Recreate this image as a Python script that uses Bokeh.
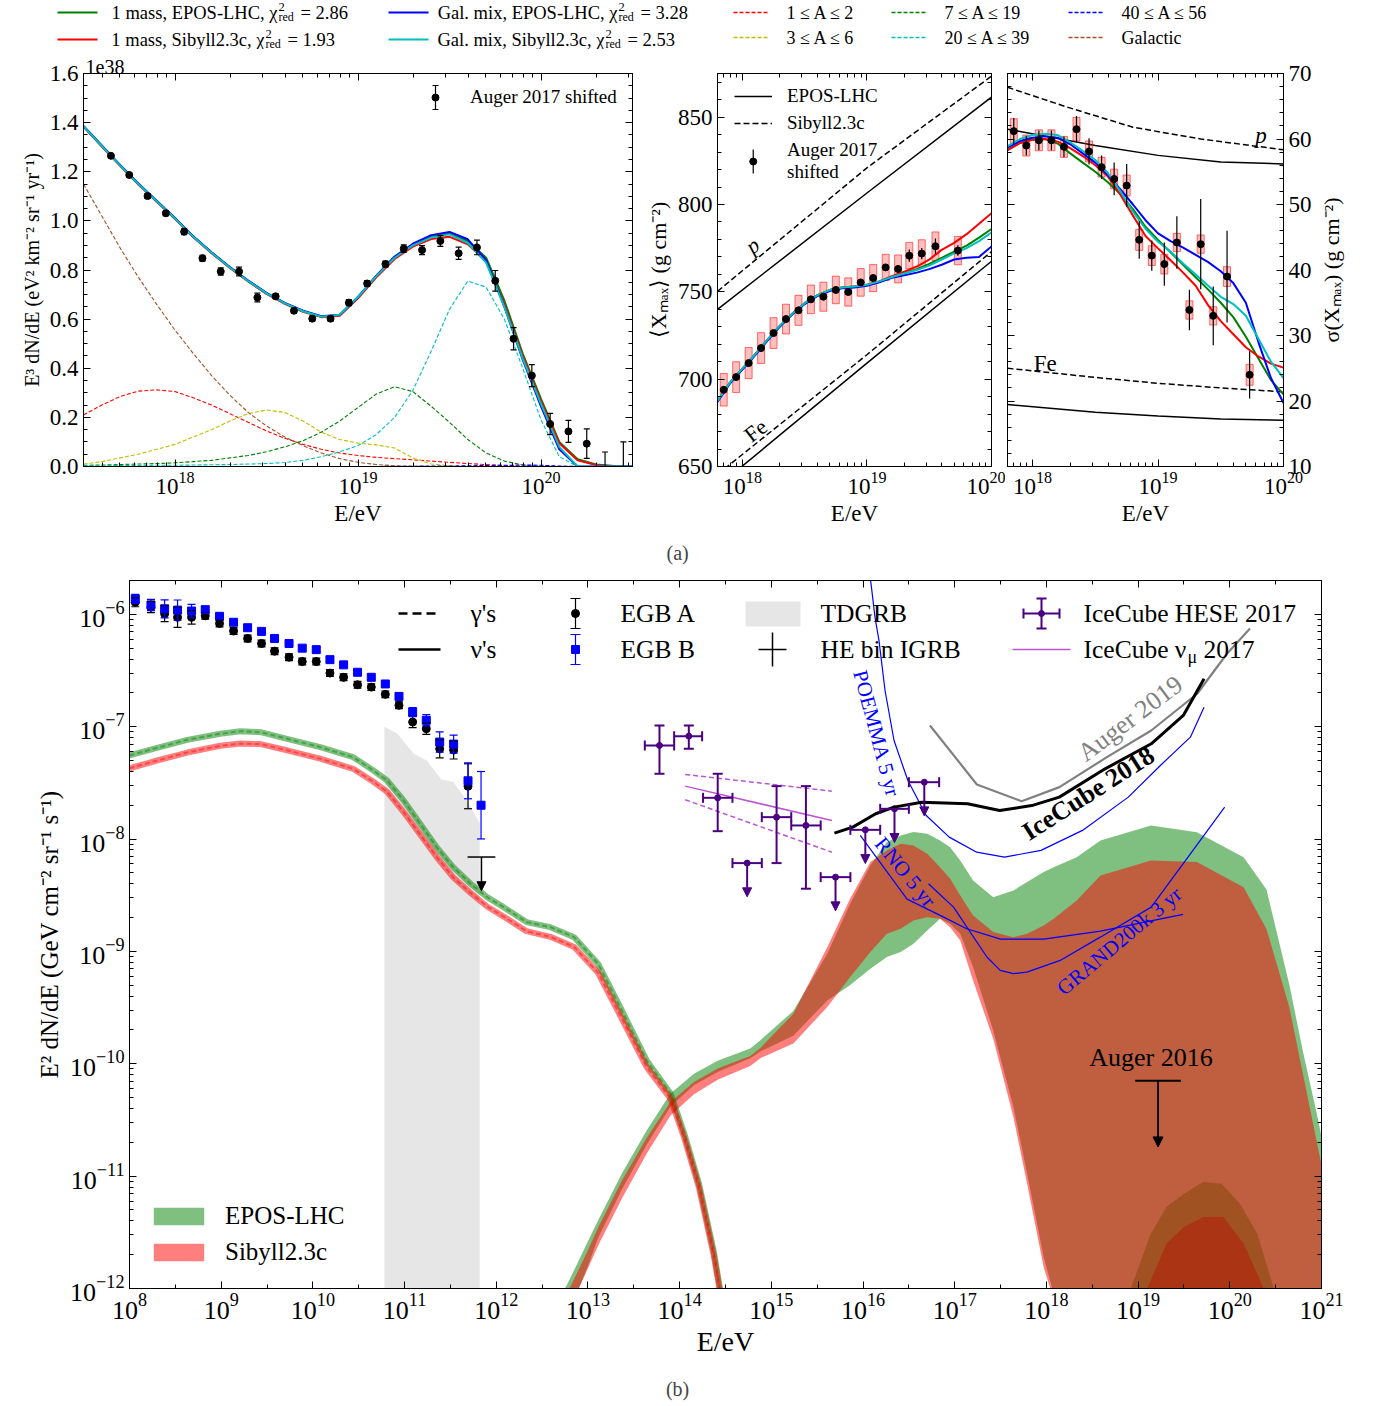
import numpy as np
from bokeh.plotting import figure
from bokeh.layouts import column, row
from bokeh.models import (Range1d, LinearAxis, LogAxis, FixedTicker, Legend, LegendItem,
                          Label, Whisker, TeeHead, Arrow, NormalHead, ColumnDataSource,
                          CustomJSTickFormatter, NumeralTickFormatter)
from bokeh.embed import file_html
from bokeh.resources import INLINE
from bokeh.core.properties import value

FONT = "Liberation Serif"
NAN = float("nan")

# ======================= DATA =======================
# ---- top legend (panel a) ----
fit_names = ["1 mass, EPOS-LHC, χ", "1 mass, Sibyll2.3c, χ", "Gal. mix, EPOS-LHC, χ", "Gal. mix, Sibyll2.3c, χ"]
fit_chi2 = ["= 2.86", "= 1.93", "= 3.28", "= 2.53"]
fit_colors = ["#008000", "#ff0000", "#0000ff", "#00bfbf"]
comp_names = ["1 ≤ A ≤ 2", "3 ≤ A ≤ 6", "7 ≤ A ≤ 19", "20 ≤ A ≤ 39", "40 ≤ A ≤ 56", "Galactic"]
comp_colors = ["#ff0000", "#bfbf00", "#008000", "#00bfbf", "#0000ff", "#a0522d"]

# ---- panel (a) left: spectrum, units of 1e38 ----
spec_logE = [17.65, 17.75, 17.85, 17.95, 18.05, 18.15, 18.25, 18.35, 18.45, 18.55, 18.65, 18.75, 18.85, 18.95,
             19.05, 19.15, 19.25, 19.35, 19.45, 19.55, 19.65, 19.75, 19.85, 19.95, 20.05, 20.15, 20.25]
spec_flux = [1.265, 1.187, 1.101, 1.031, 0.956, 0.848, 0.794, 0.794, 0.688, 0.693, 0.634, 0.602, 0.602, 0.667,
             0.745, 0.824, 0.887, 0.881, 0.918, 0.868, 0.892, 0.756, 0.520, 0.370, 0.173, 0.143, 0.093]
spec_err = [0.008, 0.008, 0.010, 0.010, 0.012, 0.012, 0.015, 0.018, 0.018, 0.010, 0.010, 0.010, 0.010, 0.012,
            0.012, 0.012, 0.015, 0.018, 0.022, 0.025, 0.030, 0.042, 0.045, 0.045, 0.043, 0.045, 0.060]
spec_ul_logE = [20.35, 20.45]
spec_ul_top = [0.059, 0.100]

fit_logE = [17.5, 17.6, 17.7, 17.8, 17.9, 18.0, 18.1, 18.2, 18.3, 18.4, 18.5, 18.6, 18.7, 18.8, 18.9, 19.0,
            19.1, 19.2, 19.3, 19.4, 19.5, 19.6, 19.7, 19.8, 19.9, 20.0, 20.1, 20.2, 20.3, 20.4, 20.5]
fit_1m_epos = [1.385, 1.305, 1.226, 1.15, 1.08, 1.01, 0.935, 0.87, 0.81, 0.755, 0.705, 0.664, 0.632, 0.61, 0.616,
               0.688, 0.775, 0.852, 0.902, 0.936, 0.948, 0.918, 0.85, 0.675, 0.46, 0.275, 0.1, 0.03, 0.008, 0.002, 0.0]
fit_1m_sib = [1.383, 1.303, 1.224, 1.148, 1.078, 1.008, 0.933, 0.868, 0.808, 0.753, 0.703, 0.662, 0.63, 0.608, 0.614,
              0.685, 0.77, 0.845, 0.895, 0.926, 0.935, 0.905, 0.835, 0.66, 0.45, 0.265, 0.095, 0.025, 0.006, 0.001, 0.0]
fit_gm_epos = [1.387, 1.307, 1.228, 1.152, 1.082, 1.012, 0.937, 0.872, 0.812, 0.757, 0.707, 0.666, 0.634, 0.612, 0.618,
               0.69, 0.777, 0.855, 0.907, 0.942, 0.955, 0.925, 0.84, 0.65, 0.435, 0.245, 0.07, 0.0, 0.0, 0.0, 0.0]
fit_gm_sib = [1.385, 1.305, 1.226, 1.15, 1.08, 1.01, 0.935, 0.87, 0.81, 0.755, 0.705, 0.664, 0.632, 0.61, 0.618,
              0.69, 0.775, 0.85, 0.9, 0.932, 0.945, 0.91, 0.83, 0.65, 0.44, 0.255, 0.08, 0.0, 0.0, 0.0, 0.0]
comp_a1_2 = [0.21, 0.25, 0.285, 0.307, 0.312, 0.305, 0.28, 0.25, 0.215, 0.18, 0.145, 0.115, 0.09, 0.07, 0.055, 0.045,
             0.037, 0.032, 0.027, 0.022, 0.017, 0.012, 0.008, 0.004, 0.002, 0, 0, 0, 0, 0, 0]
comp_a3_6 = [0.01, 0.02, 0.035, 0.05, 0.07, 0.09, 0.12, 0.15, 0.185, 0.215, 0.23, 0.22, 0.185, 0.14, 0.11, 0.095,
             0.088, 0.075, 0.035, 0.01, 0.003, 0, 0, 0, 0, 0, 0, 0, 0, 0, 0]
comp_a7_19 = [0.005, 0.006, 0.008, 0.01, 0.012, 0.015, 0.02, 0.025, 0.035, 0.045, 0.06, 0.08, 0.105, 0.14, 0.185, 0.24,
              0.295, 0.325, 0.305, 0.245, 0.18, 0.11, 0.055, 0.022, 0.006, 0.001, 0, 0, 0, 0, 0]
comp_a20_39 = [0.003, 0.003, 0.004, 0.004, 0.005, 0.005, 0.006, 0.007, 0.008, 0.01, 0.012, 0.016, 0.025, 0.04, 0.06,
               0.085, 0.13, 0.2, 0.31, 0.47, 0.64, 0.755, 0.73, 0.6, 0.4, 0.19, 0.04, 0.0, 0, 0, 0]
comp_a40_56 = [0, 0, 0, 0, 0, 0, 0, 0, 0, 0, 0, 0, 0, 0, 0, 0, 0, 0.001, 0.001, 0.002, 0.002, 0.003, 0.004, 0.005,
               0.006, 0.005, 0.002, 0, 0, 0, 0]
comp_gal = [1.15, 1.02, 0.89, 0.77, 0.66, 0.555, 0.46, 0.37, 0.29, 0.22, 0.165, 0.12, 0.085, 0.055, 0.032, 0.017,
            0.008, 0.003, 0.001, 0, 0, 0, 0, 0, 0, 0, 0, 0, 0, 0, 0]

# ---- panel (a) middle / right: Xmax moments ----
xm_logE = [17.85, 17.95, 18.05, 18.15, 18.25, 18.35, 18.45, 18.55, 18.65, 18.75, 18.85, 18.95, 19.05, 19.15,
           19.25, 19.34, 19.44, 19.55, 19.73]
xmax_val = [693.9, 701.2, 709.2, 717.8, 726.4, 734.4, 739.4, 745.7, 747.2, 751.1, 749.9, 755.4, 757.9, 764.0,
            763.1, 770.7, 771.9, 776.1, 773.6]
xmax_stat = [1.5, 1.5, 1.5, 1.5, 1.5, 1.5, 1.5, 1.5, 1.5, 1.5, 1.5, 1.6, 1.8, 2.0, 2.2, 3.5, 3.2, 4.5, 3.0]
xmax_sys = [9.3, 8.8, 8.9, 8.8, 8.8, 8.5, 8.6, 8.2, 8.3, 7.9, 8.1, 7.9, 7.8, 7.5, 8.0, 7.6, 7.9, 8.2, 8.1]
sig_val = [61.2, 59.0, 59.8, 59.8, 58.8, 61.5, 58.1, 55.7, 53.9, 52.9, 44.6, 42.2, 40.9, 44.2, 33.9, 43.95,
           33.0, 39.0, 24.0]
sig_stat = [2.0, 1.5, 1.5, 1.5, 1.6, 2.0, 2.0, 1.8, 2.5, 3.3, 2.9, 2.3, 3.3, 4.0, 3.1, 6.9, 4.5, 7.0, 3.6]
sig_sys = [1.9, 1.6, 1.6, 1.6, 1.6, 1.8, 1.6, 1.5, 1.5, 1.6, 1.6, 1.5, 1.5, 1.4, 1.4, 1.4, 1.4, 1.5, 1.6]

mod_logE = [17.8, 17.9, 18.0, 18.1, 18.2, 18.3, 18.4, 18.5, 18.6, 18.7, 18.8, 18.9, 19.0, 19.1, 19.2, 19.3,
            19.4, 19.5, 19.6, 19.7, 19.8, 19.9, 20.0]
xmax_1m_epos = [687.5, 698, 706, 714, 722.5, 730.5, 737.5, 743.5, 748, 751, 752.5, 753, 754, 756, 758.5, 760.5,
                763, 766, 769.5, 773, 776.5, 781, 786]
xmax_1m_sib = [687.5, 698, 706, 714, 722.5, 730.5, 737.5, 743.5, 748, 751, 752.5, 753, 754, 756, 759, 761.5,
               764.5, 768.5, 774, 778, 783, 789, 795]
xmax_gm_epos = [687.0, 697.5, 705.5, 713.5, 722, 730, 737, 743, 747.5, 750.5, 752, 752.5, 753.5, 755.5, 758, 759.5,
                761, 763, 765.5, 768.5, 769.5, 770, 776]
xmax_gm_sib = [687.5, 698, 706, 714, 722.5, 730.5, 737.5, 743.5, 748, 751, 752.5, 753, 754, 756, 758.5, 760.5,
               762.5, 765, 768.5, 772, 775, 779, 784]
sig_1m_epos = [58.3, 59.4, 59.9, 60.0, 59.3, 57.8, 56.4, 55.0, 53.4, 51.6, 49.3, 46.6, 44.6, 42.7, 40.8, 38.9,
               37.0, 35.0, 32.8, 29.8, 26.5, 23.2, 21.0]
sig_1m_sib = [58.3, 59.4, 59.9, 60.0, 59.6, 58.6, 57.4, 56.0, 54.3, 51.5, 48.3, 45.2, 43.3, 41.5, 39.6, 37.6,
              34.6, 32.2, 30.2, 28.2, 26.8, 25.7, 25.1]
sig_gm_epos = [58.7, 59.7, 60.2, 60.4, 60.2, 59.2, 57.8, 56.4, 54.5, 52.3, 50.0, 47.6, 45.6, 44.4, 43.4, 42.3,
               41.2, 39.8, 38.0, 35.0, 29.0, 23.5, 19.7]
sig_gm_sib = [58.9, 60.0, 60.6, 60.8, 60.6, 59.5, 58.2, 56.8, 54.8, 52.0, 48.9, 46.3, 44.3, 42.8, 41.0, 39.3,
              37.6, 35.9, 34.8, 33.0, 29.5, 26.0, 23.5]

ref_logE = [17.8, 19.0, 20.0]
xmax_p_epos = [740.0, 806.6, 861.5]
xmax_p_sib = [750.3, 821.0, 873.5]
xmax_fe_epos = [638.5, 709.2, 767.5]
xmax_fe_sib = [645.5, 714.0, 773.0]
sref_logE = [17.8, 18.27, 18.8, 19.34, 20.0]
sig_p_sib = [67.9, 64.9, 61.8, 60.0, 58.35]
sref2_logE = [17.8, 18.5, 19.0, 19.5, 20.0]
sig_p_epos = [61.5, 59.0, 57.5, 56.5, 56.2]
sig_fe_sib = [25.0, 23.6, 22.7, 22.0, 21.4]
sig_fe_epos = [19.45, 18.3, 17.7, 17.25, 17.05]

# ---- panel (b): multimessenger (log10 values unless noted) ----
egb_logE = [8.063, 8.234, 8.383, 8.524, 8.677, 8.826, 8.982, 9.135, 9.288, 9.44, 9.582, 9.74, 9.884, 10.037,
            10.186, 10.335, 10.487, 10.637, 10.79, 10.939, 11.088, 11.237, 11.383, 11.535, 11.692, 11.834]
egb_a = [1.28e-6, 1.16e-6, 1.01e-6, 9.4e-7, 9.4e-7, 9.7e-7, 8.3e-7, 7.1e-7, 6.1e-7, 5.5e-7, 4.7e-7, 4.15e-7,
         3.8e-7, 3.8e-7, 3.0e-7, 2.75e-7, 2.36e-7, 2.25e-7, 1.94e-7, 1.55e-7, 1.10e-7, 9.6e-8, 6.35e-8, 6.2e-8, 2.95e-8]
egb_a_dex = [0.04, 0.05, 0.07, 0.09, 0.06, 0.03, 0.03, 0.03, 0.03, 0.03, 0.03, 0.03, 0.03, 0.03, 0.03, 0.03, 0.03,
             0.03, 0.03, 0.03, 0.05, 0.05, 0.08, 0.08, 0.2]
egb_b = [1.37e-6, 1.21e-6, 1.12e-6, 1.09e-6, 1.07e-6, 1.10e-6, 9.6e-7, 8.5e-7, 7.6e-7, 7.05e-7, 6.1e-7, 5.5e-7,
         5.0e-7, 4.85e-7, 3.95e-7, 3.55e-7, 3.05e-7, 2.75e-7, 2.4e-7, 1.86e-7, 1.35e-7, 1.14e-7, 7.3e-8, 7.0e-8,
         3.3e-8, 2.0e-8]
egb_b_dex = [0.04, 0.05, 0.08, 0.09, 0.06, 0.03, 0.02, 0.02, 0.02, 0.02, 0.02, 0.02, 0.02, 0.02, 0.02, 0.02, 0.02,
             0.02, 0.02, 0.03, 0.04, 0.05, 0.09, 0.08, 0.16, 0.3]
igrb_logE_lo, igrb_logE_hi, igrb_log = 11.687, 11.99, -8.16

tdgrb_logE = [10.78, 10.92, 11.10, 11.24, 11.40, 11.53, 11.68, 11.82]
tdgrb_top = [-7.0, -7.06, -7.24, -7.30, -7.47, -7.49, -7.66, -7.86]

gam_logE = [8.0, 8.26, 8.63, 8.99, 9.21, 9.43, 9.72, 10.08, 10.44, 10.66, 10.81, 10.99, 11.17, 11.35, 11.53, 11.72,
            11.9, 12.08, 12.33, 12.59, 12.85, 13.11, 13.37, 13.64, 13.9, 14.05, 14.21, 14.37, 14.44]
gam_epos = [-7.256, -7.197, -7.117, -7.063, -7.040, -7.049, -7.108, -7.182, -7.271, -7.390, -7.479, -7.657, -7.864,
            -8.072, -8.250, -8.398, -8.517, -8.606, -8.739, -8.784, -8.873, -9.109, -9.525, -9.97, -10.263, -10.62,
            -11.064, -11.66, -12.0]
gam_sib = [-7.37, -7.31, -7.23, -7.17, -7.15, -7.155, -7.21, -7.285, -7.375, -7.49, -7.58, -7.76, -7.96, -8.16,
           -8.34, -8.48, -8.6, -8.69, -8.82, -8.87, -8.96, -9.19, -9.6, -10.03, -10.31, -10.66, -11.1, -11.7, -12.03]

nu_logE = [12.70, 12.75, 12.80, 12.90, 13.00, 13.11, 13.37, 13.64, 13.90, 14.16, 14.42, 14.77, 14.88, 15.24, 15.61,
           15.86, 16.08, 16.26, 16.41, 16.55, 16.70, 16.84, 16.95, 17.06, 17.20, 17.42, 17.64, 17.79, 17.97, 18.08,
           18.33, 18.59, 19.14, 19.64, 20.15, 20.40, 20.65, 20.80, 20.95, 21.00]
nu_epos_hi = [-13.0, -12.0, -11.92, -11.75, -11.58, -11.395, -10.977, -10.594, -10.265, -10.087, -9.97, -9.863, -9.79,
              -9.53, -9.02, -8.575, -8.235, -8.027, -7.968, -7.938, -7.953, -8.012, -8.072, -8.19, -8.368, -8.517,
              -8.457, -8.383, -8.294, -8.25, -8.161, -8.012, -7.879, -7.939, -8.161, -8.45, -9.3, -9.9, -10.45, -10.65]
nu_epos_lo = [-13.0, -13.0, -13.0, -12.0, -11.8, -11.55, -11.12, -10.72, -10.38, -10.19, -10.07, -9.95, -9.89,
              -9.75, -9.436, -9.30, -9.155, -9.05, -9.006, -8.932, -8.813, -8.71, -8.754, -8.843, -9.139, -9.703,
              -10.385, -10.978, -11.72, -12.05, -13.0, -13.0, -13.0, -13.0, -13.0, -13.0, -13.0, -13.0, -13.0, -13.0]
nu_sib_hi = [-13.0, -13.0, -12.0, -11.83, -11.66, -11.46, -11.04, -10.66, -10.34, -10.16, -10.04, -9.93, -9.86,
             -9.555, -8.962, -8.53, -8.205, -8.101, -8.042, -8.057, -8.131, -8.25, -8.353, -8.502, -8.68, -8.828,
             -8.873, -8.843, -8.769, -8.709, -8.546, -8.324, -8.19, -8.205, -8.43, -8.8, -9.5, -10.1, -10.7, -10.9]
nu_sib_lo = [-13.0, -13.0, -13.0, -12.0, -11.82, -11.62, -11.2, -10.8, -10.46, -10.27, -10.14, -10.02, -9.95,
             -9.82, -9.495, -9.228, -9.006, -8.843, -8.798, -8.724, -8.695, -8.71, -8.784, -8.902, -9.258, -9.777,
             -10.474, -11.07, -11.81, -12.1, -13.0, -13.0, -13.0, -13.0, -13.0, -13.0, -13.0, -13.0, -13.0, -13.0]
bump_outer_logE = [18.85, 18.92, 19.14, 19.31, 19.50, 19.71, 19.91, 20.11, 20.30, 20.48, 20.55]
bump_outer = [-13.0, -12.0, -11.51, -11.275, -11.156, -11.053, -11.067, -11.245, -11.512, -12.0, -13.0]
bump_inner_logE = [19.03, 19.10, 19.31, 19.50, 19.71, 19.93, 20.15, 20.37, 20.44]
bump_inner = [-13.0, -12.0, -11.6, -11.453, -11.364, -11.364, -11.6, -12.0, -13.0]

hese_logE = [13.78, 14.10, 14.415, 14.736, 15.057, 15.377, 15.70, 16.025, 16.343, 16.668]
hese_edge_lo = [13.62, 13.94, 14.255, 14.576, 14.896, 15.217, 15.538, 15.862, 16.187, 16.5]
hese_edge_hi = [13.94, 14.245, 14.576, 14.896, 15.217, 15.538, 15.862, 16.187, 16.5, 16.83]
hese_log = [-7.167, -7.084, -7.633, -8.214, -7.805, -7.879, -8.339, -7.918, -7.731, -7.494]
hese_dlo = [0.252, 0.113, 0.297, 0, 0.409, 0.563, 0, 0, 0, 0]
hese_dhi = [0.177, 0.094, 0.214, 0, 0.276, 0.35, 0, 0, 0, 0]
hese_ul = [False, False, False, True, False, False, True, True, True, True]

numu_logE = [14.06, 15.66]
numu_mid = [-7.529, -7.835]
numu_hi = [-7.425, -7.574]
numu_lo = [-7.65, -8.117]

icecube18_logE = [15.688, 15.888, 16.138, 16.338, 16.639, 17.14, 17.49, 17.84, 18.141, 18.64, 19.143, 19.493, 19.719]
icecube18 = [-7.947, -7.894, -7.775, -7.716, -7.672, -7.686, -7.746, -7.702, -7.627, -7.375, -7.152, -6.9, -6.574]
auger19_logE = [16.73, 17.241, 17.73, 18.142, 18.642, 19.143, 19.644, 19.969, 20.22]
auger19 = [-6.989, -7.514, -7.663, -7.538, -7.28, -7.034, -6.707, -6.351, -6.126]
poemma_logE = [16.06, 16.096, 16.13, 16.174, 16.24, 16.338, 16.489, 16.689, 16.94, 17.24, 17.542, 17.941, 18.393,
               18.893, 19.243, 19.57, 19.719]
poemma = [-5.55, -5.788, -6.025, -6.234, -6.678, -7.123, -7.479, -7.79, -7.983, -8.117, -8.161, -8.101, -7.923,
          -7.627, -7.345, -7.093, -6.826]
rno_logE = [15.97, 16.48, 16.88, 17.13, 17.5, 17.97, 18.59, 19.49]
rno = [-7.967, -8.535, -8.695, -8.798, -8.89, -8.89, -8.82, -8.67]
grand_logE = [16.714, 16.987, 17.351, 17.496, 17.641, 17.787, 18.15, 18.587, 19.143, 19.544, 19.944]
grand = [-8.398, -8.606, -9.05, -9.169, -9.198, -9.184, -9.08, -8.873, -8.606, -8.161, -7.716]
auger16_logE_lo, auger16_logE_hi, auger16_log = 18.968, 19.467, -10.15


# ======================= HELPERS =======================
def p10(a):
    return [10.0 ** v for v in a]


BLANK = CustomJSTickFormatter(code="return ''")


def decade_minor(lo, hi):
    return [k * 10.0 ** e for e in range(lo, hi) for k in range(2, 10)]


def style_axis(ax, size, blank=False, label_size=None):
    ax.major_tick_in = 7
    ax.major_tick_out = 0
    ax.minor_tick_in = 4
    ax.minor_tick_out = 0
    ax.major_tick_line_color = "black"
    ax.minor_tick_line_color = "black"
    ax.axis_line_color = "black"
    ax.major_label_text_font = FONT
    ax.major_label_text_font_size = size
    ax.major_label_text_color = "black"
    ax.axis_label_text_font = FONT
    ax.axis_label_text_font_style = "normal"
    ax.axis_label_text_font_size = label_size or size
    ax.axis_label_text_color = "black"
    ax.major_label_standoff = 0 if blank else 5
    ax.axis_label_standoff = 4


def base_fig(**kw):
    p = figure(output_backend="svg", toolbar_location=None, **kw)
    p.grid.visible = False
    p.outline_line_color = "black"
    p.outline_line_width = 1
    return p


def style_title(p, size):
    p.title.text_font = FONT
    p.title.text_font_size = size
    p.title.text_font_style = "normal"
    p.title.text_color = "black"
    p.title.align = "left"
    p.title.standoff = 0
    p.title.offset = 2


def add_frame_axes(p, xt, yt, xlog, ylog, size, right_main=False):
    xmain = p.below[0]
    ymain = p.right[0] if right_main else p.left[0]
    xmain.ticker = xt
    ymain.ticker = yt
    style_axis(xmain, size)
    style_axis(ymain, size)
    Xa = LogAxis if xlog else LinearAxis
    Ya = LogAxis if ylog else LinearAxis
    top = Xa(ticker=xt, formatter=BLANK)
    style_axis(top, size, blank=True)
    p.add_layout(top, "above")
    other = Ya(ticker=yt, formatter=BLANK)
    style_axis(other, size, blank=True)
    p.add_layout(other, "left" if right_main else "right")
    return xmain, ymain


def errbar(p, x, lo, hi, color, width=1.2, cap=6, dim="height"):
    src = ColumnDataSource(dict(b=x, lo=lo, hi=hi))
    p.add_layout(Whisker(source=src, base="b", lower="lo", upper="hi", dimension=dim, level="annotation",
                         line_color=color, line_width=width,
                         upper_head=TeeHead(size=cap, line_color=color, line_width=width),
                         lower_head=TeeHead(size=cap, line_color=color, line_width=width)))


def arrows(p, x, y0, y1, color, width=1.5, size=9):
    src = ColumnDataSource(dict(x=x, y0=y0, y1=y1))
    p.add_layout(Arrow(source=src, x_start="x", y_start="y0", x_end="x", y_end="y1", line_color=color,
                       line_width=width, level="annotation",
                       end=NormalHead(size=size, fill_color=color, line_color=color)))


def txt(p, x, y, s, size, color="black", angle=0, style="normal", align="center", baseline="middle"):
    p.add_layout(Label(x=x, y=y, text=s, angle=angle, angle_units="deg", text_font=FONT,
                       text_font_size=size, text_color=color, text_font_style=style,
                       text_align=align, text_baseline=baseline))


def make_legend(items, loc, gw, gh, st, size, spacing):
    return Legend(items=[LegendItem(label=l, renderers=r) for l, r in items], location=loc, margin=0,
                  padding=0, spacing=spacing, glyph_width=gw, glyph_height=gh, label_standoff=st,
                  label_text_font=FONT, label_text_font_size=size, label_text_color="black",
                  border_line_color=None, background_fill_alpha=0)


# ======================= TOP LEGEND STRIP =======================
TOP_H = 49
pl = figure(width=1377, height=TOP_H, x_range=Range1d(0, 1377), y_range=Range1d(TOP_H, 0),
            x_axis_location=None, y_axis_location=None, output_backend="svg",
            toolbar_location=None, min_border=0)
pl.grid.visible = False
pl.outline_line_color = None
chi_end = [277, 264, 617, 604]
fit_row = [12, 39, 12, 39]
fit_x0 = [57, 57, 388, 388]
for x0, y, col in zip(fit_x0, fit_row, fit_colors):
    pl.line([x0, x0 + 40], [y, y], line_color=col, line_width=2)
pl.text(x=chi_end, y=fit_row, text=fit_names, text_align="right", text_baseline="middle",
        text_font=value(FONT), text_font_size="18.5px", text_color="black")
pl.text(x=[c + 1 for c in chi_end], y=[r - 6 for r in fit_row], text=["2"] * 4, text_align="left",
        text_baseline="middle", text_font=value(FONT), text_font_size="12.5px", text_color="black")
pl.text(x=[c + 1 for c in chi_end], y=[r + 4 for r in fit_row], text=["red"] * 4, text_align="left",
        text_baseline="middle", text_font=value(FONT), text_font_size="12px", text_color="black")
pl.text(x=[c + 23 for c in chi_end], y=fit_row, text=fit_chi2, text_align="left", text_baseline="middle",
        text_font=value(FONT), text_font_size="18.5px", text_color="black")
comp_x0 = [733, 733, 891, 891, 1068, 1068]
comp_row = [12, 37, 12, 37, 12, 37]
for x0, y, col in zip(comp_x0, comp_row, comp_colors):
    pl.line([x0, x0 + 36], [y, y], line_color=col, line_width=1.3, line_dash="4 2")
pl.text(x=[x + 53 for x in comp_x0], y=comp_row, text=comp_names, text_align="left", text_baseline="middle",
        text_font=value(FONT), text_font_size="18px", text_color="black")

# ======================= PANEL a1: spectrum =======================
A_TOP, A_BOT = 24, 68
A_H = A_TOP + 393 + A_BOT
TITLE_SIZE = "20px"
xt_a1 = FixedTicker(ticks=[1e18, 1e19, 1e20], minor_ticks=decade_minor(17, 21))
yt_a1 = FixedTicker(ticks=[0.0, 0.2, 0.4, 0.6, 0.8, 1.0, 1.2, 1.4, 1.6], minor_ticks=[0.05 * i for i in range(33)])
pa1 = base_fig(width=642, height=A_H, x_axis_type="log", x_range=Range1d(10 ** 17.5, 10 ** 20.5),
               y_range=Range1d(0, 1.6), min_border_left=83, min_border_right=10, min_border_top=A_TOP,
               min_border_bottom=A_BOT, title="1e38")
style_title(pa1, TITLE_SIZE)
xa1, ya1 = add_frame_axes(pa1, xt_a1, yt_a1, True, False, "23px")
ya1.formatter = NumeralTickFormatter(format="0.0")
xa1.axis_label = "E/eV"
ya1.axis_label = "E³ dN/dE (eV² km⁻² sr⁻¹ yr⁻¹)"
ya1.axis_label_text_font_size = "20px"
E1 = p10(fit_logE)
for comp, col in zip([comp_a1_2, comp_a3_6, comp_a7_19, comp_a20_39, comp_a40_56, comp_gal], comp_colors):
    pa1.line(E1, comp, line_color=col, line_width=1.1, line_dash="4 2")
for fit, col in zip([fit_1m_epos, fit_1m_sib, fit_gm_epos, fit_gm_sib], fit_colors):
    pa1.line(E1, fit, line_color=col, line_width=2)
Es = p10(spec_logE)
errbar(pa1, Es, [f - e for f, e in zip(spec_flux, spec_err)], [f + e for f, e in zip(spec_flux, spec_err)], "black")
ul_src = ColumnDataSource(dict(b=p10(spec_ul_logE), lo=[0.0, 0.0], hi=spec_ul_top))
pa1.add_layout(Whisker(source=ul_src, base="b", lower="lo", upper="hi", level="annotation", line_color="black",
                       line_width=1.2, upper_head=TeeHead(size=6, line_color="black", line_width=1.2),
                       lower_head=None))
pa1.scatter(Es, spec_flux, marker="circle", size=7, color="black")
# legend: label via Legend, key (marker + error bar) drawn at the legend key slot
inv1 = pa1.line([NAN], [NAN], line_alpha=0)
pa1.add_layout(make_legend([("Auger 2017 shifted", [inv1])], (342, 358), 20, 20, 25, "19px", 6))
key1x, key1y = 10 ** (17.5 + (435 - 83) * 3 / 549), (466 - 97) * 1.6 / 393
key1d = 12 * 1.6 / 393
errbar(pa1, [key1x], [key1y - key1d], [key1y + key1d], "black")
pa1.scatter([key1x], [key1y], marker="circle", size=7, color="black")

# ======================= PANEL a2: <Xmax> =======================
xt_a2 = FixedTicker(ticks=[1e18, 1e19, 1e20], minor_ticks=decade_minor(17, 20))
yt_a2 = FixedTicker(ticks=[650, 700, 750, 800, 850], minor_ticks=list(range(650, 880, 10)))
pa2 = base_fig(width=363, height=A_H, x_axis_type="log", x_range=Range1d(10 ** 17.8, 1e20),
               y_range=Range1d(650, 875), min_border_left=73, min_border_right=14, min_border_top=A_TOP,
               min_border_bottom=A_BOT, title=" ")
style_title(pa2, TITLE_SIZE)
xa2, ya2 = add_frame_axes(pa2, xt_a2, yt_a2, True, False, "23px")
xa2.axis_label = "E/eV"
ya2.axis_label = "⟨Xₘₐₓ⟩ (g cm⁻²)"
ya2.axis_label_text_font_size = "22px"
Er = p10(ref_logE)
r_epos = pa2.line(Er, xmax_p_epos, line_color="black", line_width=1.5)
r_sib = pa2.line(Er, xmax_p_sib, line_color="black", line_width=1.5, line_dash="6 3")
pa2.line(Er, xmax_fe_epos, line_color="black", line_width=1.5)
pa2.line(Er, xmax_fe_sib, line_color="black", line_width=1.5, line_dash="6 3")
Ex = p10(xm_logE)
pa2.quad(left=[e * 10 ** -0.028 for e in Ex], right=[e * 10 ** 0.028 for e in Ex],
         bottom=[v - s for v, s in zip(xmax_val, xmax_sys)], top=[v + s for v, s in zip(xmax_val, xmax_sys)],
         fill_color="red", fill_alpha=0.25, line_color="red", line_alpha=0.55, line_width=1)
Em = p10(mod_logE)
for m, col in zip([xmax_1m_epos, xmax_1m_sib, xmax_gm_epos, xmax_gm_sib], fit_colors):
    pa2.line(Em, m, line_color=col, line_width=2)
errbar(pa2, Ex, [v - s for v, s in zip(xmax_val, xmax_stat)], [v + s for v, s in zip(xmax_val, xmax_stat)],
       "black", cap=0)
pa2.scatter(Ex, xmax_val, marker="circle", size=7, color="black")
txt(pa2, 10 ** 18.08, 776.5, "p", "22px", angle=38, style="italic")
txt(pa2, 10 ** 18.106, 670.6, "Fe", "22px", angle=38)
inv2 = pa2.line([NAN], [NAN], line_alpha=0)
pa2.add_layout(make_legend([("EPOS-LHC", [r_epos]), ("Sibyll2.3c", [r_sib]),
                            ("Auger 2017\nshifted", [inv2])], (17, 283), 38, 20, 15, "19px", 5))
key2x, key2y = 10 ** (17.8 + (751 - 715) * 2.2 / 276), 650 + (466 - 161) * 225 / 393
key2d = 12 * 225 / 393
errbar(pa2, [key2x], [key2y - key2d], [key2y + key2d], "black", cap=0)
pa2.scatter([key2x], [key2y], marker="circle", size=7, color="black")

# ======================= PANEL a3: sigma(Xmax) =======================
yt_a3 = FixedTicker(ticks=[10, 20, 30, 40, 50, 60, 70], minor_ticks=list(range(10, 72, 2)))
pa3 = base_fig(width=311, height=A_H, x_axis_type="log", x_range=Range1d(10 ** 17.8, 1e20),
               y_range=Range1d(10, 70), y_axis_location="right", min_border_left=2, min_border_right=33,
               min_border_top=A_TOP, min_border_bottom=A_BOT, title=" ")
style_title(pa3, TITLE_SIZE)
xa3, ya3 = add_frame_axes(pa3, xt_a2, yt_a3, True, False, "23px", right_main=True)
xa3.axis_label = "E/eV"
pa3.line(p10(sref_logE), sig_p_sib, line_color="black", line_width=1.5, line_dash="6 3")
pa3.line(p10(sref2_logE), sig_p_epos, line_color="black", line_width=1.5)
pa3.line(p10(sref2_logE), sig_fe_sib, line_color="black", line_width=1.5, line_dash="6 3")
pa3.line(p10(sref2_logE), sig_fe_epos, line_color="black", line_width=1.5)
pa3.quad(left=[e * 10 ** -0.028 for e in Ex], right=[e * 10 ** 0.028 for e in Ex],
         bottom=[v - s for v, s in zip(sig_val, sig_sys)], top=[v + s for v, s in zip(sig_val, sig_sys)],
         fill_color="red", fill_alpha=0.25, line_color="red", line_alpha=0.55, line_width=1)
for m, col in zip([sig_1m_epos, sig_1m_sib, sig_gm_epos, sig_gm_sib], fit_colors):
    pa3.line(Em, m, line_color=col, line_width=2)
errbar(pa3, Ex, [v - s for v, s in zip(sig_val, sig_stat)], [v + s for v, s in zip(sig_val, sig_stat)],
       "black", cap=0)
pa3.scatter(Ex, sig_val, marker="circle", size=7, color="black")
txt(pa3, 10 ** 19.82, 60.5, "p", "23px", style="italic")
txt(pa3, 10 ** 18.1, 25.8, "Fe", "23px")

# right-hand axis title of the sigma panel (reads bottom to top), in its own strip
plab = figure(width=61, height=A_H, x_range=Range1d(0, 61), y_range=Range1d(10, 70), x_axis_location=None,
              y_axis_location=None, output_backend="svg", toolbar_location=None, min_border_left=0,
              min_border_right=0, min_border_top=A_TOP, min_border_bottom=A_BOT, title=" ")
style_title(plab, TITLE_SIZE)
plab.grid.visible = False
plab.outline_line_color = None
plab.text(x=[15], y=[40], text=["σ(Xₘₐₓ) (g cm⁻²)"], angle=np.pi / 2, text_align="center",
          text_baseline="middle", text_font=value(FONT), text_font_size="22px", text_color="black")

# ======================= PANEL b =======================
B_L, B_R, B_T, B_B = 129, 1321, 580, 1288
B_YTOP = 2e-6
xt_b = FixedTicker(ticks=[10.0 ** k for k in range(8, 22)], minor_ticks=[10.0 ** (k + 0.5) for k in range(8, 21)])
yt_b = FixedTicker(ticks=[10.0 ** k for k in range(-12, -5)], minor_ticks=decade_minor(-12, -5))
pb = base_fig(width=1377, height=800, x_axis_type="log", y_axis_type="log", x_range=Range1d(1e8, 1e21),
              y_range=Range1d(1e-12, B_YTOP), min_border_left=B_L, min_border_right=1377 - B_R,
              min_border_top=10, min_border_bottom=800 - 10 - (B_B - B_T))
xb, yb = add_frame_axes(pb, xt_b, yt_b, True, True, "26px")
xb.axis_label = "E/eV"
xb.axis_label_text_font_size = "28px"
yb.axis_label = "E² dN/dE (GeV cm⁻² sr⁻¹ s⁻¹)"
yb.axis_label_text_font_size = "25px"


def bx(px):
    return 10 ** (8 + (px - B_L) * 13 / (B_R - B_L))


def by(py):
    return 10 ** (-12 + (B_B - py) * (np.log10(B_YTOP) + 12) / (B_B - B_T))


GREY_T = "#e6e6e6"
INDIGO = "#4b0082"
ORCHID = "#ba55d3"
pb.varea(x=p10(tdgrb_logE), y1=[1e-13] * len(tdgrb_logE), y2=p10(tdgrb_top), fill_color=GREY_T)
Enu = p10(nu_logE)
pb.varea(x=Enu, y1=p10(nu_epos_lo), y2=p10(nu_epos_hi), fill_color="green", fill_alpha=0.5)
pb.varea(x=Enu, y1=p10(nu_sib_lo), y2=p10(nu_sib_hi), fill_color="red", fill_alpha=0.5)
pb.varea(x=p10(bump_outer_logE), y1=[1e-13] * len(bump_outer_logE), y2=p10(bump_outer), fill_color="#a05223")
pb.varea(x=p10(bump_inner_logE), y1=[1e-13] * len(bump_inner_logE), y2=p10(bump_inner), fill_color="#aa3414")
Eg = p10(gam_logE)
for g, col in [(gam_epos, "green"), (gam_sib, "red")]:
    pb.line(Eg, p10(g), line_color=col, line_alpha=0.5, line_width=6)
    pb.line(Eg, p10(g), line_color=col, line_alpha=0.45, line_width=2, line_dash="5 3")

Ee = p10(egb_logE)
Ea = Ee[:len(egb_a)]
errbar(pb, Ea, [v * 10 ** -d for v, d in zip(egb_a, egb_a_dex)], [v * 10 ** d for v, d in zip(egb_a, egb_a_dex)],
       "black", cap=8)
pb.scatter(Ea, egb_a, marker="circle", size=8, color="black")
errbar(pb, Ee, [v * 10 ** -d for v, d in zip(egb_b, egb_b_dex)], [v * 10 ** d for v, d in zip(egb_b, egb_b_dex)],
       "blue", cap=8)
pb.scatter(Ee, egb_b, marker="square", size=8, color="blue")
pb.segment(x0=[10 ** igrb_logE_lo], y0=[10 ** igrb_log], x1=[10 ** igrb_logE_hi], y1=[10 ** igrb_log],
           line_color="black", line_width=1.5)
arrows(pb, [10 ** ((igrb_logE_lo + igrb_logE_hi) / 2)], [10 ** igrb_log], [10 ** (igrb_log - 0.3)], "black")

# IceCube HESE
Eh = p10(hese_logE)
errbar(pb, p10(hese_log), p10(hese_edge_lo), p10(hese_edge_hi), INDIGO, width=2, cap=10, dim="width")
meas = [i for i in range(len(hese_log)) if not hese_ul[i]]
uls = [i for i in range(len(hese_log)) if hese_ul[i]]
errbar(pb, [Eh[i] for i in meas], [10 ** (hese_log[i] - hese_dlo[i]) for i in meas],
       [10 ** (hese_log[i] + hese_dhi[i]) for i in meas], INDIGO, width=2, cap=10)
arrows(pb, [Eh[i] for i in uls], [10 ** hese_log[i] for i in uls], [10 ** (hese_log[i] - 0.3) for i in uls],
       INDIGO, width=2, size=9)
pb.scatter(Eh, p10(hese_log), marker="circle", size=6, color=INDIGO)
Enm = p10(numu_logE)
pb.line(Enm, p10(numu_mid), line_color=ORCHID, line_width=1.5)
pb.line(Enm, p10(numu_hi), line_color=ORCHID, line_width=1.5, line_dash="5 3")
pb.line(Enm, p10(numu_lo), line_color=ORCHID, line_width=1.5, line_dash="5 3")

# sensitivities / limits
pb.line(p10(poemma_logE), p10(poemma), line_color="blue", line_width=1.2)
pb.line(p10(rno_logE), p10(rno), line_color="blue", line_width=1.2)
pb.line(p10(grand_logE), p10(grand), line_color="blue", line_width=1.2)
pb.line(p10(auger19_logE), p10(auger19), line_color="gray", line_width=2.2)
pb.line(p10(icecube18_logE), p10(icecube18), line_color="black", line_width=3)
pb.segment(x0=[10 ** auger16_logE_lo], y0=[10 ** auger16_log], x1=[10 ** auger16_logE_hi], y1=[10 ** auger16_log],
           line_color="black", line_width=2)
a16x = 10 ** ((auger16_logE_lo + auger16_logE_hi) / 2)
arrows(pb, [a16x], [10 ** auger16_log], [10 ** (auger16_log - 0.59)], "black", width=1.8, size=10)
txt(pb, 10 ** 19.14, 10 ** -10.07, "Auger 2016", "26px", baseline="bottom")
txt(pb, 10 ** 18.456, 10 ** -7.594, "IceCube 2018", "26px", angle=32.6, style="bold")
txt(pb, 10 ** 18.914, 10 ** -6.927, "Auger 2019", "26px", color="gray", angle=37)
txt(pb, 10 ** 16.15, 10 ** -7.063, "POEMMA 5 yr", "21px", color="blue", angle=-75)
txt(pb, 10 ** 16.46, 10 ** -8.294, "RNO 5 yr", "21px", color="blue", angle=-51)
txt(pb, 10 ** 18.794, 10 ** -8.908, "GRAND200k 3 yr", "21px", color="blue", angle=40)

# ---- legend of panel (b), keys drawn at the legend slots ----
R1, R2 = 613, 649
pb.line([bx(398), bx(440)], [by(R1)] * 2, line_color="black", line_width=2.5, line_dash="9 5")
pb.line([bx(398), bx(440)], [by(R2)] * 2, line_color="black", line_width=2.5)
errbar(pb, [bx(575)], [by(R1 + 15)], [by(R1 - 15)], "black", cap=10)
pb.scatter([bx(575)], [by(R1)], marker="circle", size=8, color="black")
errbar(pb, [bx(575)], [by(R2 + 15)], [by(R2 - 15)], "blue", cap=10)
pb.scatter([bx(575)], [by(R2)], marker="square", size=8, color="blue")
pb.quad(left=[bx(745)], right=[bx(800)], top=[by(R1 - 12)], bottom=[by(R1 + 13)], fill_color=GREY_T,
        line_color=None)
pb.segment(x0=[bx(772), bx(758)], y0=[by(R2 + 17), by(R2)], x1=[bx(772), bx(786)], y1=[by(R2 - 17), by(R2)],
           line_color="black", line_width=1.5)
errbar(pb, [by(R1)], [bx(1023)], [bx(1059)], INDIGO, width=2, cap=10, dim="width")
errbar(pb, [bx(1041)], [by(R1 + 15)], [by(R1 - 15)], INDIGO, width=2, cap=10)
pb.scatter([bx(1041)], [by(R1)], marker="circle", size=6, color=INDIGO)
pb.line([bx(1012), bx(1070)], [by(R2)] * 2, line_color=ORCHID, line_width=1.5)
for px, py, s in [(470, R1, "γ's"), (470, R2, "ν's"), (620, R1, "EGB A"), (620, R2, "EGB B"),
                  (820, R1, "TDGRB"), (820, R2, "HE bin IGRB"), (1083, R1, "IceCube HESE 2017"),
                  (1083, R2, "IceCube ν")]:
    txt(pb, bx(px), by(py), s, "25.5px", align="left")
txt(pb, bx(1187), by(R2 + 7), "μ", "18px", align="left")
txt(pb, bx(1203), by(R2), "2017", "25.5px", align="left")

g_ep = pb.varea(x=[NAN], y1=[NAN], y2=[NAN], fill_color="green", fill_alpha=0.5)
g_sb = pb.varea(x=[NAN], y1=[NAN], y2=[NAN], fill_color="red", fill_alpha=0.5)
pb.add_layout(make_legend([("EPOS-LHC", [g_ep]), ("Sibyll2.3c", [g_sb])], (18, 22), 63, 22, 15, "25px", 8))


# ======================= captions & layout =======================
def caption(s, h, xf, yf):
    c = figure(width=1377, height=h, x_range=Range1d(0, 1), y_range=Range1d(0, 1), x_axis_location=None,
               y_axis_location=None, output_backend="svg", toolbar_location=None, min_border=0)
    c.grid.visible = False
    c.outline_line_color = None
    c.add_layout(Label(x=xf, y=yf, text=s, text_align="center", text_baseline="middle", text_font=FONT,
                       text_font_size="20px"))
    return c


cap_a = caption("(a)", 36, 0.4917, 0.5)
cap_b = caption("(b)", 34, 0.4917, 0.47)
layout = column(row(pl), row(pa1, pa2, pa3, plab), row(cap_a), row(pb), row(cap_b))
open("out.html", "w").write(file_html(layout, INLINE))
